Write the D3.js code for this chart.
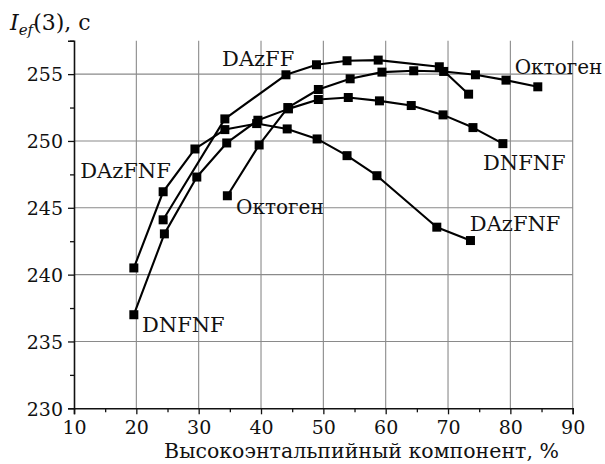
<!DOCTYPE html>
<html>
<head>
<meta charset="utf-8">
<script src="https://cdn.jsdelivr.net/npm/d3@7"></script>
<style>
  html, body { margin: 0; padding: 0; background: #fff; }
  svg text { font-family: "DejaVu Serif", "Liberation Serif", serif; fill: #111; }
</style>
</head>
<body>
<div id="chart"></div>
<script>
// series values (x = %, y = seconds)
const dazffX = [24.3, 34.2, 44.0, 48.9, 53.8, 58.8, 68.6, 73.3];
const dazffY = [244.1, 251.65, 254.95, 255.7, 256.0, 256.05, 255.55, 253.5];

const dazfnfX = [19.6, 24.3, 29.4, 34.2, 39.3, 44.2, 49.0, 53.8, 58.6, 68.2, 73.6];
const dazfnfY = [240.5, 246.2, 249.4, 250.85, 251.3, 250.9, 250.15, 248.9, 247.4, 243.55, 242.55];

const dnfnfX = [19.6, 24.5, 29.7, 34.5, 39.5, 44.4, 49.2, 54.0, 59.0, 64.1, 69.2, 74.0, 78.8];
const dnfnfY = [237.0, 243.05, 247.3, 249.85, 251.55, 252.4, 253.1, 253.25, 253.0, 252.65, 251.95, 251.0, 249.8];

const octogenX = [34.6, 39.7, 44.3, 49.2, 54.3, 59.4, 64.5, 69.3, 74.4, 79.3, 84.4];
const octogenY = [245.9, 249.7, 252.5, 253.85, 254.65, 255.15, 255.25, 255.2, 254.95, 254.55, 254.05];

const seriesNames = ["DAzFF", "DAzFNF", "DNFNF", "Октоген"];
const xTicks = [10, 20, 30, 40, 50, 60, 70, 80, 90];
const yTicks = [230, 235, 240, 245, 250, 255];

const series = [
  { name: seriesNames[0], xs: dazffX, ys: dazffY },
  { name: seriesNames[1], xs: dazfnfX, ys: dazfnfY },
  { name: seriesNames[2], xs: dnfnfX, ys: dnfnfY },
  { name: seriesNames[3], xs: octogenX, ys: octogenY },
].map((s) => ({ name: s.name, pts: s.xs.map((x, i) => [x, s.ys[i]]) }));

const W = 605, H = 464;
const margin = { top: 40.7, right: 32.3, bottom: 55.7, left: 74 };

const svg = d3.select("#chart").append("svg")
  .attr("width", W).attr("height", H)
  .attr("viewBox", `0 0 ${W} ${H}`);

const x = d3.scaleLinear().domain([10, 90]).range([margin.left, W - margin.right]);
const y = d3.scaleLinear().domain([230, 257.5]).range([H - margin.bottom, margin.top]);

// grid
const grid = svg.append("g").attr("stroke", "#8a8a8a").attr("stroke-width", 1.1);
grid.selectAll("line.vx")
  .data(xTicks.slice(1))
  .join("line")
  .attr("x1", (d) => x(d)).attr("x2", (d) => x(d))
  .attr("y1", y(230)).attr("y2", y(257.5));
grid.selectAll("line.hy")
  .data(yTicks.slice(1))
  .join("line")
  .attr("x1", x(10)).attr("x2", x(90))
  .attr("y1", (d) => y(d)).attr("y2", (d) => y(d));

// axes, major + minor ticks
const xMinor = d3.range(15, 90, 10);
const yMinor = d3.range(232.5, 258, 5);

const xAxis = svg.append("g").attr("transform", `translate(0,${y(230)})`);
xAxis.call(d3.axisBottom(x).tickValues(xTicks).tickSize(6).tickPadding(6).tickFormat(d3.format("d")));
svg.append("g").attr("transform", `translate(0,${y(230)})`)
  .call(d3.axisBottom(x).tickValues(xMinor).tickSize(4).tickFormat(""))
  .call((g) => g.select(".domain").remove());

const yAxis = svg.append("g").attr("transform", `translate(${x(10)},0)`);
yAxis.call(d3.axisLeft(y).tickValues(yTicks).tickSize(6).tickPadding(5).tickFormat(d3.format("d")));
svg.append("g").attr("transform", `translate(${x(10)},0)`)
  .call(d3.axisLeft(y).tickValues(yMinor).tickSize(4).tickFormat(""))
  .call((g) => g.select(".domain").remove());

svg.selectAll(".domain").attr("stroke", "#111").attr("stroke-width", 1.6);
svg.selectAll(".tick line").attr("stroke", "#111").attr("stroke-width", 1.3);
xAxis.selectAll(".tick text")
  .style("font-family", '"DejaVu Serif", serif').style("font-size", "19px")
  .attr("fill", "#111");
yAxis.selectAll(".tick text")
  .style("font-family", '"DejaVu Serif", serif').style("font-size", "19px")
  .attr("fill", "#111").attr("dy", "0.36em");
xAxis.attr("font-family", null).attr("font-size", null);
yAxis.attr("font-family", null).attr("font-size", null);

// lines + markers
const line = d3.line().x((d) => x(d[0])).y((d) => y(d[1]));
const sq = 9;
const sg = svg.selectAll("g.series").data(series).join("g").attr("class", "series");
sg.append("path")
  .attr("d", (d) => line(d.pts))
  .attr("fill", "none").attr("stroke", "#000").attr("stroke-width", 2.1)
  .attr("stroke-linejoin", "round");
sg.selectAll("rect")
  .data((d) => d.pts)
  .join("rect")
  .attr("x", (d) => x(d[0]) - sq / 2).attr("y", (d) => y(d[1]) - sq / 2)
  .attr("width", sq).attr("height", sq).attr("fill", "#000");

// series labels (anchored in data units)
const labels = [
  { t: seriesNames[0], x: 33.75, y: 255.6, fs: 21 },
  { t: seriesNames[1], x: 11.0, y: 247.2, fs: 21 },
  { t: seriesNames[1], x: 73.5, y: 243.3, fs: 21 },
  { t: seriesNames[2], x: 75.6, y: 247.8, fs: 21 },
  { t: seriesNames[2], x: 20.9, y: 235.7, fs: 21 },
  { t: seriesNames[3], x: 36.0, y: 244.55, fs: 20 },
  { t: seriesNames[3], x: 80.7, y: 255.0, fs: 20 },
];
svg.selectAll("text.lbl")
  .data(labels)
  .join("text")
  .attr("class", "lbl")
  .attr("x", (d) => x(d.x)).attr("y", (d) => y(d.y))
  .style("font-size", (d) => d.fs + "px")
  .text((d) => d.t);

// axis titles
svg.append("text")
  .attr("x", 361.5).attr("y", H - 6)
  .attr("text-anchor", "middle")
  .style("font-size", "20.5px")
  .text("Высокоэнтальпийный компонент, %");

const yt = svg.append("text").attr("x", 10).attr("y", 30).style("font-size", "22px");
yt.append("tspan").style("font-style", "italic").text("I");
yt.append("tspan").style("font-style", "italic").style("font-size", "15px").attr("dy", 5).text("ef");
yt.append("tspan").attr("dy", -5).text("(3), с");
</script>
</body>
</html>
